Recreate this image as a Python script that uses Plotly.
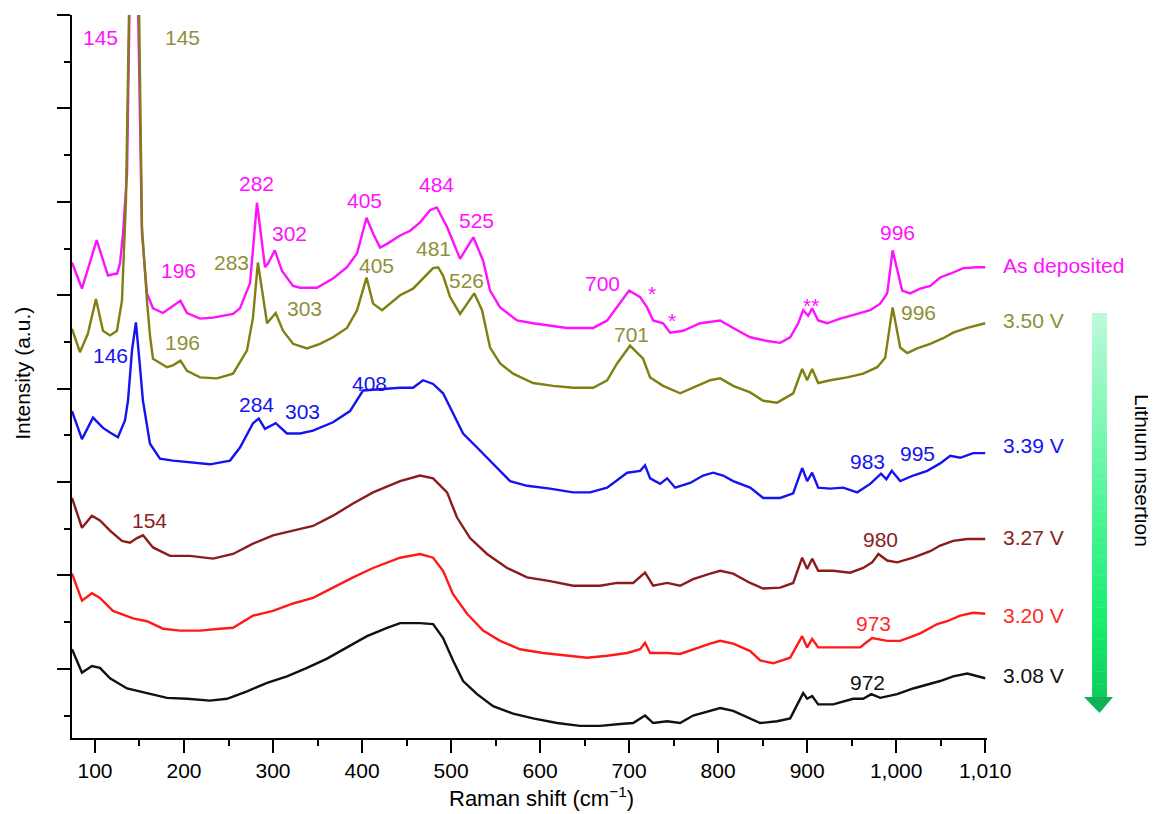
import plotly.graph_objects as go

# ---------------- data (Raman shift in cm-1, offset intensity in a.u.) ----------------
x_asdep = [74.2, 85.4, 101.9, 114.6, 122.5, 124.7, 128.1, 131.5, 136.0, 139.3, 145, 148.3, 151.7, 152.8,
           158.4, 165.2, 176.4, 196, 203.4, 218.0, 232.6, 255.1, 262.9, 274.2, 282, 291.0, 294.4, 302,
           310.1, 322.5, 330.3, 349.4, 367.4, 383.1, 394.4, 400.0, 405, 412.4, 420.2, 428.1, 442.7, 454.0,
           465.2, 476.4, 484, 495.5, 510.1, 525, 536.0, 543.8, 555.1, 574.2, 592.1, 630.3, 659.6, 675.3,
           686.5, 700, 712.4, 720.2, 727.0, 738.2, 746.1, 760.7, 779.8, 802.3, 816.9, 836.0, 855.1, 869.7,
           880.9, 889.9, 895.5, 901.1, 905.6, 912.4, 922.5, 937.1, 956.2, 970.8, 982.0, 989.9, 996, 1006.7,
           1015.7, 1027.0, 1038.2, 1049.4, 1060.7, 1075.3, 1091.0, 1100.0]
y_asdep = [43.5, 40.7, 45.9, 42.1, 42.3, 42.3, 43.4, 46.6, 53.0, 71.6, 110, 71.6, 53.0, 46.6,
           40.2, 38.6, 38.1, 39.4, 38.1, 37.5, 37.6, 38.0, 38.6, 41.3, 49.9, 43.0, 43.4, 44.8,
           42.6, 41.0, 40.8, 40.8, 41.8, 43.0, 44.5, 46.6, 48.3, 46.6, 45.1, 45.5, 46.4, 46.9,
           47.8, 49.1, 49.4, 47.3, 43.9, 46.2, 43.7, 40.5, 38.7, 37.3, 37.0, 36.5, 36.5, 37.3,
           38.7, 40.5, 39.8, 38.7, 37.3, 37.0, 36.0, 36.2, 37.0, 37.3, 36.5, 35.5, 35.1, 34.9,
           35.5, 37.0, 38.4, 37.8, 38.6, 37.3, 37.0, 37.5, 38.0, 38.4, 39.1, 40.2, 44.8, 40.5,
           40.2, 40.7, 41.0, 41.9, 42.3, 42.9, 43.0, 43.0]

x_350 = [74.2, 83.1, 92.1, 101.1, 109.0, 116.9, 124.7, 130.3, 134.8, 139.3, 145, 149.4, 152.8, 158.4,
         162.0, 165.2, 180.9, 187.6, 196, 203.4, 218.0, 237.1, 255.1, 270.8, 277.5, 283, 293.3, 303,
         311.2, 322.5, 338.2, 352.8, 367.4, 383.1, 394.4, 405, 412.4, 422.5, 431.5, 442.7, 457.3, 468.5,
         479.8, 485.4, 491.0, 498.9, 510.1, 526, 534.8, 543.8, 555.1, 569.7, 592.1, 614.6, 637.1, 659.6,
         675.3, 686.5, 701, 715.7, 723.6, 738.2, 757.3, 771.9, 791.0, 802.3, 816.9, 836.0, 850.6, 866.3,
         884.3, 894.4, 900.0, 905.6, 912.4, 925.8, 944.9, 962.9, 978.7, 987.6, 996, 1004.5, 1012.4,
         1023.6, 1038.2, 1052.8, 1064.0, 1079.8, 1100.0]
y_350 = [36.4, 33.9, 35.9, 39.6, 36.2, 35.7, 36.2, 39.4, 50.1, 71.6, 110, 71.6, 47.3, 39.4,
         35.5, 33.2, 32.3, 32.5, 33.0, 31.9, 31.2, 31.1, 31.6, 34.1, 37.6, 43.5, 37.0, 38.1,
         36.2, 34.8, 34.3, 34.8, 35.5, 36.5, 38.4, 41.9, 39.1, 38.4, 39.1, 40.0, 40.7, 41.8,
         42.9, 43.0, 42.1, 39.8, 38.0, 40.2, 38.4, 34.4, 32.7, 31.6, 30.6, 30.3, 30.1, 30.1,
         30.9, 32.7, 34.6, 33.2, 31.2, 30.3, 29.5, 30.1, 30.9, 31.1, 30.3, 29.6, 28.7, 28.5,
         29.5, 32.1, 30.9, 32.1, 30.6, 30.9, 31.2, 31.6, 32.3, 33.3, 38.7, 34.4, 33.8,
         34.3, 34.8, 35.4, 36.0, 36.5, 37.0]

x_339 = [74.2, 85.4, 97.8, 109.0, 116.9, 125.8, 133.7, 137.1, 141.6, 146, 150.6, 153.9, 161.8, 173.0,
         187.6, 210.1, 229.2, 251.7, 262.9, 277.5, 284, 291.0, 303, 315.7, 330.3, 344.9, 367.4, 386.5,
         401.1, 442.7, 457.3, 468.5, 479.8, 491.0, 502.2, 513.5, 529.2, 547.2, 566.3, 585.4, 611.2,
         637.1, 656.2, 675.3, 697.8, 712.4, 717.9, 723.6, 734.8, 742.7, 751.7, 768.5, 783.1, 794.4,
         805.6, 816.9, 836.0, 850.6, 869.7, 884.3, 894.4, 900.0, 905.6, 912.4, 925.8, 940.4, 956.2,
         970.8, 983, 989, 995, 1004.5, 1019.1, 1034.8, 1049.4, 1060.7, 1071.9, 1086.5, 1100.0]
y_339 = [27.6, 24.6, 26.9, 25.8, 25.3, 24.8, 26.6, 28.7, 34.1, 37.1, 32.3, 28.7, 24.1, 22.5,
         22.3, 22.1, 21.9, 22.3, 23.7, 26.3, 26.8, 25.7, 26.3, 25.2, 25.2, 25.5, 26.4, 27.6,
         29.8, 30.1, 30.1, 30.9, 30.5, 29.5, 27.3, 25.2, 23.7, 22.0, 20.1, 19.6, 19.3,
         18.9, 18.9, 19.4, 21.0, 21.2, 21.8, 20.4, 19.8, 20.4, 19.4, 19.9, 20.7, 21.0,
         20.7, 20.1, 19.4, 18.3, 18.3, 18.8, 21.5, 20.1, 21.0, 19.4, 19.3, 19.4, 18.9,
         19.8, 20.9, 20.3, 21.2, 20.1, 20.7, 21.2, 22.0, 22.8, 22.6, 23.1, 23.1]

x_327 = [74.2, 85.4, 96.6, 105.6, 116.9, 130.3, 139.3, 147.2, 154, 165.2, 184.3, 206.7, 232.6, 255.1,
         277.5, 300.0, 322.5, 344.9, 367.4, 389.9, 412.4, 442.7, 465.2, 479.8, 495.5, 506.7, 521.3,
         540.4, 562.9, 585.4, 611.2, 637.1, 667.4, 686.5, 704.5, 717.9, 727.0, 742.7, 757.3, 771.9,
         791.0, 802.3, 816.9, 836.0, 850.6, 869.7, 884.3, 894.4, 900.0, 905.6, 912.4, 929.2, 948.3,
         962.9, 973.0, 980, 989.9, 1001.1, 1019.1, 1038.2, 1049.4, 1064.0, 1079.8, 1100.0]
y_327 = [18.3, 15.1, 16.4, 15.9, 14.8, 13.7, 13.5, 14.0, 14.3, 13.0, 12.1, 12.1, 11.8, 12.3,
         13.4, 14.3, 14.8, 15.3, 16.4, 17.7, 18.9, 20.1, 20.7, 20.4, 18.9, 16.2, 14.0,
         12.3, 10.8, 9.8, 9.4, 8.9, 8.9, 9.2, 9.2, 10.3, 8.9, 9.2, 8.9, 9.6,
         10.2, 10.5, 10.2, 9.2, 8.6, 8.7, 9.2, 11.9, 10.7, 11.8, 10.5, 10.5, 10.3,
         10.8, 11.4, 12.3, 11.6, 11.4, 11.9, 12.6, 13.2, 13.7, 13.9, 13.9]

x_320 = [74.2, 85.4, 96.6, 105.6, 120.2, 142.7, 158.4, 176.4, 195.5, 218.0, 240.4, 255.1, 277.5, 300.0,
         322.5, 344.9, 367.4, 389.9, 412.4, 442.7, 465.2, 479.8, 491.0, 502.2, 518.0, 536.0, 555.1,
         577.5, 603.4, 630.3, 652.8, 675.3, 697.8, 712.4, 717.9, 723.6, 742.7, 757.3, 771.9, 791.0,
         802.3, 816.9, 836.0, 847.2, 861.8, 880.9, 894.4, 900.0, 905.6, 912.4, 929.2, 959.6, 966.0,
         973, 989.9, 1004.5, 1027.0, 1046.1, 1057.3, 1071.9, 1086.5, 1100.0]
y_320 = [10.2, 7.3, 8.1, 7.6, 6.2, 5.4, 5.1, 4.3, 4.1, 4.1, 4.3, 4.4, 5.7, 6.2,
         7.0, 7.6, 8.7, 9.8, 10.8, 11.9, 12.3, 11.9, 10.5, 8.0, 5.9, 4.1, 3.0,
         2.1, 1.7, 1.4, 1.2, 1.4, 1.7, 2.1, 2.8, 1.7, 1.7, 1.6, 2.1, 2.7,
         3.0, 2.7, 1.9, 0.9, 0.6, 1.2, 3.5, 2.3, 3.2, 2.3, 2.3, 2.3, 2.8,
         3.3, 3.0, 3.0, 3.8, 4.8, 5.1, 5.7, 6.0, 5.9]

x_308 = [74.2, 85.4, 96.6, 105.6, 116.9, 136.0, 158.4, 180.9, 203.4, 229.2, 248.3, 270.8, 293.3, 315.7,
         338.2, 360.7, 383.1, 405.6, 428.1, 442.7, 465.2, 479.8, 491.0, 502.2, 513.5, 529.2, 547.2,
         569.7, 592.1, 619.1, 644.9, 667.4, 689.9, 704.5, 717.9, 727.0, 742.7, 757.3, 771.9, 791.0,
         802.3, 816.9, 836.0, 847.2, 866.3, 880.9, 895.5, 900.0, 905.6, 912.4, 929.2, 951.7, 962.9,
         972, 982.0, 1001.1, 1019.1, 1038.2, 1049.4, 1064.0, 1079.8, 1100.0]
y_308 = [2.1, -0.4, 0.3, 0.1, -1.0, -2.1, -2.6, -3.1, -3.2, -3.4, -3.2, -2.4, -1.5, -0.8,
         0.1, 1.1, 2.3, 3.5, 4.4, 4.9, 4.9, 4.8, 3.3, 0.9, -1.3, -2.7, -4.0,
         -4.8, -5.3, -5.8, -6.1, -6.1, -5.9, -5.8, -5.0, -5.8, -5.6, -5.8, -5.0, -4.5,
         -4.2, -4.5, -5.3, -5.8, -5.6, -5.3, -2.6, -3.2, -2.9, -3.8, -3.8, -3.2, -3.2,
         -2.7, -3.1, -2.7, -2.1, -1.6, -1.3, -0.8, -0.5, -1.0]

series_names = ["As deposited", "3.50 V", "3.39 V", "3.27 V", "3.20 V", "3.08 V"]
series_x = [x_asdep, x_350, x_339, x_327, x_320, x_308]
series_y = [y_asdep, y_350, y_339, y_327, y_320, y_308]
line_colors = ["#ff10ff", "#7f7f12", "#1414f0", "#8b1c1c", "#ff1a1a", "#111111"]
text_colors = ["#ff10ff", "#8f8f3a", "#1414f0", "#8b2222", "#ff2a2a", "#111111"]
name_label_y = [43.2, 37.3, 23.9, 14.1, 5.7, -0.75]

# peak labels: (text, x, y, series index)
peak_labels = [
    ("145", 106.7, 67.6, 0), ("196", 193.3, 42.6, 0), ("282", 282, 52.0, 0), ("302", 318, 46.6, 0),
    ("405", 402.2, 50.1, 0), ("484", 483.1, 51.9, 0), ("525", 528.1, 48.0, 0), ("700", 669.7, 41.3, 0),
    ("*", 725.8, 40.2, 0), ("*", 748.3, 37.3, 0), ("**", 904.5, 38.9, 0), ("996", 1001.1, 46.7, 0),
    ("145", 197.8, 67.6, 1), ("196", 197.8, 34.9, 1), ("283", 252.8, 43.5, 1), ("303", 334.8, 38.6, 1),
    ("405", 415.7, 43.2, 1), ("481", 479.8, 45.0, 1), ("526", 516.9, 41.6, 1), ("701", 702.2, 35.8, 1),
    ("996", 1024.7, 38.1, 1),
    ("146", 116.9, 33.5, 2), ("284", 281.0, 28.3, 2), ("303", 332.6, 27.6, 2), ("408", 407.9, 30.6, 2),
    ("983", 967.4, 22.2, 2), ("995", 1023.6, 23.1, 2),
    ("154", 160.7, 15.9, 3), ("980", 982.0, 13.8, 3),
    ("973", 974.2, 4.9, 4),
    ("972", 967.4, -1.5, 5),
]

x_tickvals = [100, 200, 300, 400, 500, 600, 700, 800, 900, 1000, 1100]
x_ticktext = ["100", "200", "300", "400", "500", "600", "700", "800", "900", "1,000", "1,010"]
x_minor = [150, 250, 350, 450, 550, 650, 750, 850, 950, 1050]
y_major = [0, 10, 20, 30, 40, 50, 60, 70]
y_minor = [-5, 5, 15, 25, 35, 45, 55, 65]

FONT = "Arial, Liberation Sans, sans-serif"

fig = go.Figure()
for xs, ys, nm, col in zip(series_x, series_y, series_names, line_colors):
    fig.add_trace(go.Scatter(x=xs, y=ys, mode="lines", name=nm,
                             line=dict(color=col, width=2.4), showlegend=False))

ann = []
for txt, xv, yv, si in peak_labels:
    ann.append(dict(x=xv, y=yv, xref="x", yref="y", text=txt, showarrow=False,
                    font=dict(family=FONT, size=21, color=text_colors[si]),
                    xanchor="center", yanchor="middle"))
for nm, yv, col in zip(series_names, name_label_y, text_colors):
    ann.append(dict(x=1.0153, y=yv, xref="paper", yref="y", text=nm, showarrow=False,
                    font=dict(family=FONT, size=21, color=col), xanchor="left", yanchor="middle"))

# axis titles
ann.append(dict(x=0.5126, y=-0.0815, xref="paper", yref="paper", text="Raman shift (cm<sup>\u22121</sup>)",
                showarrow=False, font=dict(family=FONT, size=22, color="black"),
                xanchor="center", yanchor="middle"))
ann.append(dict(x=-0.0536, y=0.505, xref="paper", yref="paper", text="Intensity (a.u.)",
                showarrow=False, textangle=-90, font=dict(family=FONT, size=21, color="black"),
                xanchor="center", yanchor="middle"))
ann.append(dict(x=1.1694, y=0.3707, xref="paper", yref="paper", text="Lithium insertion",
                showarrow=False, textangle=90, font=dict(family=FONT, size=21, color="black"),
                xanchor="center", yanchor="middle"))

# gradient arrow (decoration)
shapes = []
bar_x0, bar_x1 = 1.1148, 1.1311
bar_top, bar_bot = 0.5878, 0.0567
stops = [(0.0, (190, 249, 218)), (0.45, (90, 246, 158)), (0.8, (20, 238, 112)), (1.0, (14, 205, 92))]


def col_at(t):
    for (t0, c0), (t1, c1) in zip(stops[:-1], stops[1:]):
        if t <= t1:
            f = (t - t0) / (t1 - t0)
            return tuple(int(round(c0[i] + (c1[i] - c0[i]) * f)) for i in range(3))
    return stops[-1][1]


N = 60
for i in range(N):
    t = (i + 0.5) / N
    y1 = bar_top - (bar_top - bar_bot) * i / N
    y0 = bar_top - (bar_top - bar_bot) * (i + 1) / N - 0.0005
    c = col_at(t)
    shapes.append(dict(type="rect", xref="paper", yref="paper", x0=bar_x0, x1=bar_x1, y0=y0, y1=y1,
                       fillcolor="rgb(%d,%d,%d)" % c, line=dict(width=0), layer="above"))
shapes.append(dict(type="path", xref="paper", yref="paper",
                   path="M 1.1060 0.0567 L 1.1377 0.0567 L 1.1230 0.0346 Z",
                   fillcolor="rgb(16,178,82)", line=dict(width=0), layer="above"))

# page body has an 8px margin: size the figure so the plot lands where the reference has it
fig.update_layout(
    width=1148, height=806,
    margin=dict(l=64, r=169, t=7, b=76),
    paper_bgcolor="white", plot_bgcolor="white",
    annotations=ann, shapes=shapes,
    xaxis=dict(range=[74.2, 1102], showgrid=False, zeroline=False, showline=True,
               linecolor="black", linewidth=2, ticks="outside", ticklen=13, tickwidth=2,
               tickcolor="black", tickvals=x_tickvals, ticktext=x_ticktext,
               tickfont=dict(family=FONT, size=21, color="black"),
               minor=dict(tickvals=x_minor, ticks="outside", ticklen=6, tickwidth=2, tickcolor="black")),
    yaxis=dict(range=[-7.4, 70.0], showgrid=False, zeroline=False, showline=True,
               linecolor="black", linewidth=2, ticks="outside", ticklen=13, tickwidth=2,
               tickcolor="black", tickvals=y_major, showticklabels=False,
               minor=dict(tickvals=y_minor, ticks="outside", ticklen=6, tickwidth=2, tickcolor="black")),
)

fig.write_html("out.html")
